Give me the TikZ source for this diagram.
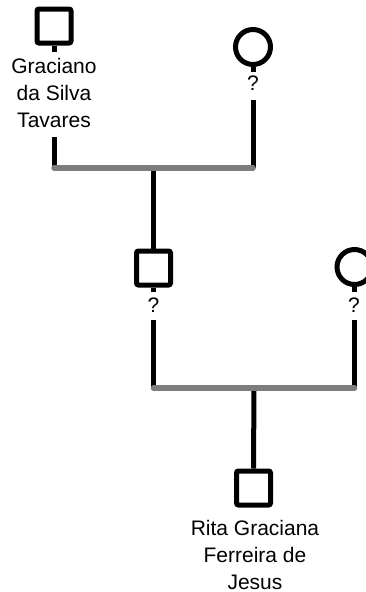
\documentclass[tikz,border=0pt]{standalone}
\usepackage{fontspec}
\setmainfont{Liberation Sans}
\begin{document}
\begin{tikzpicture}[x=1pt,y=-1pt,
  personbox/.style={draw=black,line width=5pt,inner sep=0pt,minimum size=34pt,fill=white},
  malebox/.style={personbox,rectangle,rounded corners=2pt},
  femalebox/.style={personbox,circle,minimum size=35pt},
  nametext/.style={align=center,inner sep=0pt,anchor=north,font=\fontsize{21}{26.8}\selectfont},
  qmark/.style={inner sep=0pt,anchor=base,font=\fontsize{21}{24}\selectfont},
  linkline/.style={draw=black,line width=5pt},
  barline/.style={draw=gray!98!black,line width=5.5pt,line cap=round}]
\useasboundingbox (0,0) rectangle (366,592);
\clip (0,0) rectangle (366,592);
% generation 1
\node[malebox] (g) at (54,26) {};
\node[nametext] (gt) at (54,58) {Graciano\\da Silva\\Tavares};
\coordinate (gs) at (54,52);
\coordinate (gl) at (54,137);
\coordinate (gj) at (54,168);
\node[femalebox] (m1) at (253,47) {};
\node[qmark] (q1) at (253,90) {?};
\coordinate (m1s) at (253,72);
\coordinate (m1l) at (253,100);
\coordinate (m1j) at (253,168);
\coordinate (c1j) at (153.5,168);
% generation 2
\node[malebox] (f) at (153.5,268) {};
\node[qmark] (q2) at (153.5,312) {?};
\coordinate (fs) at (153.5,292);
\coordinate (fl) at (153.5,320);
\coordinate (fj) at (153.5,388);
\node[femalebox] (m2) at (354.5,267) {};
\node[qmark] (q3) at (354,312) {?};
\coordinate (m2s) at (354.5,292);
\coordinate (m2l) at (354.5,320);
\coordinate (m2j) at (354.5,388);
\coordinate (c2j) at (254,388);
% generation 3
\node[malebox] (r) at (253.5,488) {};
\node[nametext] (rt) at (255,520) {Rita Graciana\\Ferreira de\\Jesus};
% connectors
\draw[linkline] (g.south) -- (gs);
\draw[linkline] (gl) -- (gj);
\draw[linkline] (m1.south) -- (m1s);
\draw[linkline] (m1l) -- (m1j);
\draw[linkline] (c1j) -- (f.north);
\draw[linkline] (f.south) -- (fs);
\draw[linkline] (fl) -- (fj);
\draw[linkline] (m2.south) -- (m2s);
\draw[linkline] (m2l) -- (m2j);
\draw[linkline] (c2j) -- (r.north);
\draw[barline] (gj) -- (m1j);
\draw[barline] (fj) -- (m2j);
\end{tikzpicture}
\end{document}
